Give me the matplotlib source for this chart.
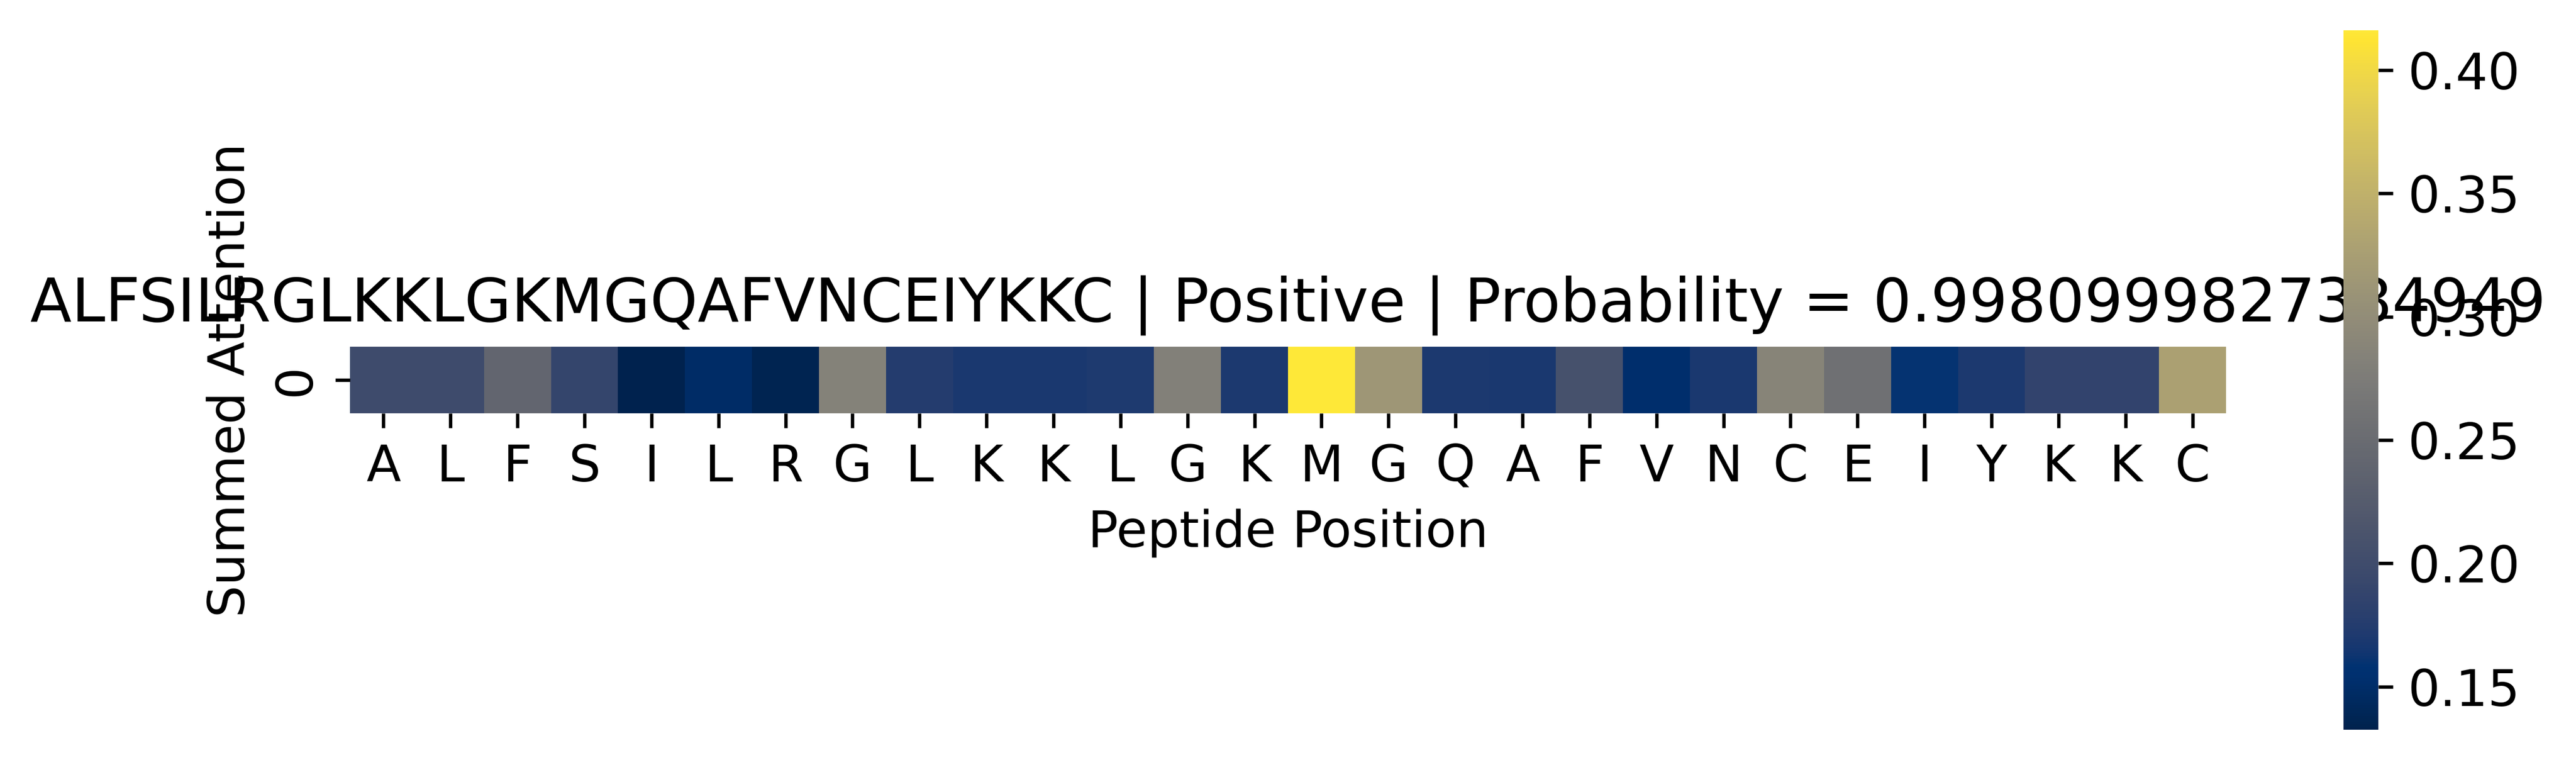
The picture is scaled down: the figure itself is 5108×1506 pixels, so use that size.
import numpy as np
import matplotlib
matplotlib.use('Agg')
import matplotlib.pyplot as plt
import seaborn as sns

#__________________________________________________________
# peptide and summed attention per residue
peptide = 'ALFSILRGLKKLGKMGQAFVNCEIYKKC'
label = 'Positive'
probability = 0.9980999827384949
attention = [0.199, 0.198, 0.241, 0.189, 0.1326, 0.149, 0.135, 0.284,
             0.175, 0.169, 0.169, 0.171, 0.281, 0.170, 0.4161, 0.314,
             0.170, 0.169, 0.207, 0.152, 0.169, 0.287, 0.257, 0.160,
             0.170, 0.186, 0.186, 0.328]

plt.rcParams['font.size'] = 12

#__________________________________________________________
def plot_attention(seq, att, lab, prob):
    f, ax = plt.subplots(figsize=(10, 3))
    sns.heatmap(np.array(att).reshape(1, -1), xticklabels=list(seq),
                cmap='cividis', square=True, ax=ax)
    ax.set_title('{} | {} | Probability = {}'.format(seq, lab, prob))
    ax.set_xlabel('Peptide Position')
    ax.set_ylabel('Summed Attention')
    plt.savefig('out.png', dpi=600, bbox_inches='tight')
    plt.close()

#__________________________________________________________
if __name__ == "__main__":
    plot_attention(peptide, attention, label, probability)
